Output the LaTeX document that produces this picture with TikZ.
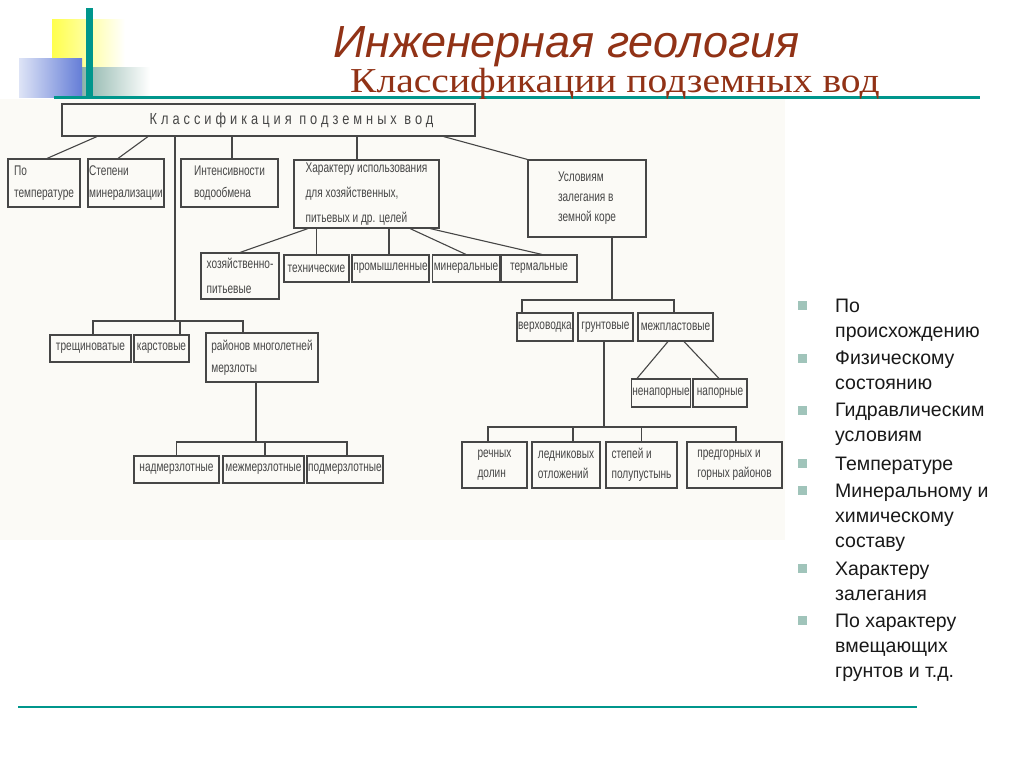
\documentclass[tikz,border=0pt]{standalone}
\usepackage{fontspec}
\setmainfont{Liberation Sans}
\newfontfamily\subtitlefont[FakeStretch=1.13]{Liberation Serif}
\newfontfamily\chartfont[FakeStretch=0.72]{Liberation Sans}
\newfontfamily\rootfont[FakeStretch=0.8,LetterSpace=25]{Liberation Sans}
\definecolor{titlered}{RGB}{145,50,22}
\definecolor{tealbar}{RGB}{0,150,140}
\definecolor{bulletgr}{RGB}{160,196,186}
\definecolor{scanbg}{RGB}{251,250,246}
\definecolor{inkgray}{RGB}{70,70,70}

\begin{document}
\begin{tikzpicture}[x=1pt, y=-1pt,
                    box/.style={draw=inkgray, line width=1.1pt, inner sep=1pt,
                                align=left, text=inkgray,
                                font={\chartfont\fontsize{14}{22}\selectfont}},
                    link/.style={draw=inkgray, line width=1.1pt},
                    bullettext/.style={anchor=north west, inner sep=0pt, align=left,
                                       font={\fontsize{19.5}{25}\selectfont}, text=black!90}]
  \useasboundingbox (0,0) rectangle (1024,767);
  \fill[white] (0,0) rectangle (1024,767);
  % corner decoration
  \shade[left color=yellow!70, right color=white] (52,20) rectangle (125,68);
  \shade[left color={rgb,255:red,140;green,180;blue,170}, right color=white] (82,68) rectangle (150,97);
  \shade[left color={rgb,255:red,222;green,228;blue,246}, right color={rgb,255:red,100;green,125;blue,215}] (19,59) rectangle (82,98);
  \fill[tealbar] (86,8) rectangle (93,97);
  \draw[tealbar, line width=2.5pt] (54,97.5) -- (980,97.5);
  % titles
  \node[anchor=base west, inner sep=0pt, text=titlered,
        font={\itshape\fontsize{45}{45}\selectfont}] (title) at (333,58) {Инженерная геология};
  \node[anchor=base west, inner sep=0pt, text=titlered,
        font={\subtitlefont\fontsize{35}{36}\selectfont}] (subtitle) at (350,93) {Классификации подземных вод};
  % scanned chart
  \fill[scanbg] (0,99) rectangle (785,540);
  \node[box, minimum width=413, minimum height=32, font={\rootfont\fontsize{16}{16}\selectfont}] (root) at (268.5,120) {\hspace*{46pt}Классификация подземных вод};
  \node[box, minimum width=72, minimum height=48] (temp) at (44,183) {По\\температуре};
  \node[box, minimum width=76, minimum height=48] (salt) at (126,183) {Степени\\минерализации};
  \node[box, minimum width=97, minimum height=48] (intens) at (229.5,183) {Интенсивности\\водообмена};
  \node[box, minimum width=145, minimum height=68, font={\chartfont\fontsize{14}{25}\selectfont}] (usage) at (366.5,194) {Характеру использования\\для хозяйственных,\\питьевых и др. целей};
  \node[box, minimum width=118, minimum height=77, font={\chartfont\fontsize{14}{20}\selectfont}] (cond) at (587,198.5) {Условиям\\залегания в\\земной коре};
  \node[box, minimum width=78, minimum height=46, font={\chartfont\fontsize{14}{25}\selectfont}] (hoz) at (240,276) {хозяйственно-\\питьевые};
  \node[box, minimum width=65, minimum height=27] (tech) at (316.5,268.5) {технические};
  \node[box, minimum width=77, minimum height=27] (prom) at (390.5,268.5) {промышленные};
  \node[box, minimum width=66, minimum height=27] (minw) at (466,268.5) {минеральные};
  \node[box, minimum width=76, minimum height=27] (therm) at (539,268.5) {термальные};
  \node[box, minimum width=81, minimum height=27] (crack) at (90.5,348.5) {трещиноватые};
  \node[box, minimum width=55, minimum height=27] (karst) at (161.5,348.5) {карстовые};
  \node[box, minimum width=112, minimum height=49] (perm) at (262,357.5) {районов многолетней\\мерзлоты};
  \node[box, minimum width=85, minimum height=27] (supra) at (176.5,469.5) {надмерзлотные};
  \node[box, minimum width=81, minimum height=27] (inter) at (263.5,469.5) {межмерзлотные};
  \node[box, minimum width=76, minimum height=27] (subp) at (345,469.5) {подмерзлотные};
  \node[box, minimum width=56, minimum height=28] (perch) at (545,327) {верховодка};
  \node[box, minimum width=55, minimum height=28] (ground) at (605.5,327) {грунтовые};
  \node[box, minimum width=75, minimum height=28] (strat) at (675.5,327) {межпластовые};
  \node[box, minimum width=58, minimum height=28] (nopress) at (661,393) {ненапорные};
  \node[box, minimum width=54, minimum height=28] (press) at (720,393) {напорные};
  \node[box, minimum width=65, minimum height=46, font={\chartfont\fontsize{14}{20}\selectfont}] (river) at (494.5,465) {речных\\долин};
  \node[box, minimum width=68, minimum height=46, font={\chartfont\fontsize{14}{20}\selectfont}] (glac) at (566,465) {ледниковых\\отложений};
  \node[box, minimum width=71, minimum height=46, font={\chartfont\fontsize{14}{20}\selectfont}] (steppe) at (641.5,465) {степей и\\полупустынь};
  \node[box, minimum width=95, minimum height=46, font={\chartfont\fontsize{14}{20}\selectfont}] (foot) at (734.5,465) {предгорных и\\горных районов};
  % bus points
  \coordinate (crackbus) at (175,321);
  \coordinate (permbus) at (256,442);
  \coordinate (condbus) at (612,300);
  \coordinate (groundbus) at (604,427);
  % connectors
  \draw[link] ([xshift=-171.5]root.south) -- ([xshift=3]temp.north);
  \draw[link] ([xshift=-120.5]root.south) -- ([xshift=-8]salt.north);
  \draw[link] ([xshift=2.5]intens.north) -- ([xshift=2.5]intens.north |- root.south);
  \draw[link] ([xshift=-9.5]usage.north) -- ([xshift=-9.5]usage.north |- root.south);
  \draw[link] ([xshift=-32]root.south east) -- (cond.north west);
  \draw[link] (crackbus |- root.south) -- (crackbus);
  \draw[link] ([xshift=2.5]crack.north) |- ([xshift=-19]perm.north |- crackbus) -- ([xshift=-19]perm.north);
  \draw[link] ([xshift=18.5]karst.north) -- ([xshift=18.5]karst.north |- crackbus);
  \draw[link] ([xshift=-58.5]usage.south) -- (hoz.north);
  \draw[link] (tech.north) -- (tech.north |- usage.south);
  \draw[link] ([xshift=-1.5]prom.north) -- ([xshift=-1.5]prom.north |- usage.south);
  \draw[link] ([xshift=43.5]usage.south) -- (minw.north);
  \draw[link] ([xshift=63.5]usage.south) -- ([xshift=3]therm.north);
  \draw[link] (permbus |- perm.south) -- (permbus);
  \draw[link] (supra.north) |- ([xshift=2]subp.north |- permbus) -- ([xshift=2]subp.north);
  \draw[link] ([xshift=1.5]inter.north) -- ([xshift=1.5]inter.north |- permbus);
  \draw[link] (condbus |- cond.south) -- (condbus);
  \draw[link] ([xshift=-23]perch.north) |- ([xshift=-1.5]strat.north |- condbus) -- ([xshift=-1.5]strat.north);
  \draw[link] ([xshift=-7.5]strat.south) -- ([xshift=-24]nopress.north);
  \draw[link] ([xshift=8.5]strat.south) -- ([xshift=-1]press.north);
  \draw[link] (groundbus |- ground.south) -- (groundbus);
  \draw[link] ([xshift=-6.5]river.north) |- ([xshift=1.5]foot.north |- groundbus) -- ([xshift=1.5]foot.north);
  \draw[link] ([xshift=7]glac.north) -- ([xshift=7]glac.north |- groundbus);
  \draw[link] (steppe.north) -- (steppe.north |- groundbus);
  % bullet list
  \foreach \i/\y/\txt in {1/298.5/{По\\происхождению}, 2/351/{Физическому\\состоянию},
                          3/403/{Гидравлическим\\условиям}, 4/456.5/{Температуре},
                          5/483.5/{Минеральному и\\химическому\\составу}, 6/561.5/{Характеру\\залегания},
                          7/613.5/{По характеру\\вмещающих\\грунтов и т.д.}}{
    \fill[bulletgr] (798,\y+2.5) rectangle ++(9,9);
    \node[bullettext] (item\i) at (835,\y) {\txt};
  }
  \draw[tealbar, line width=2.5pt] (18,707) -- (917,707);
\end{tikzpicture}
\end{document}
